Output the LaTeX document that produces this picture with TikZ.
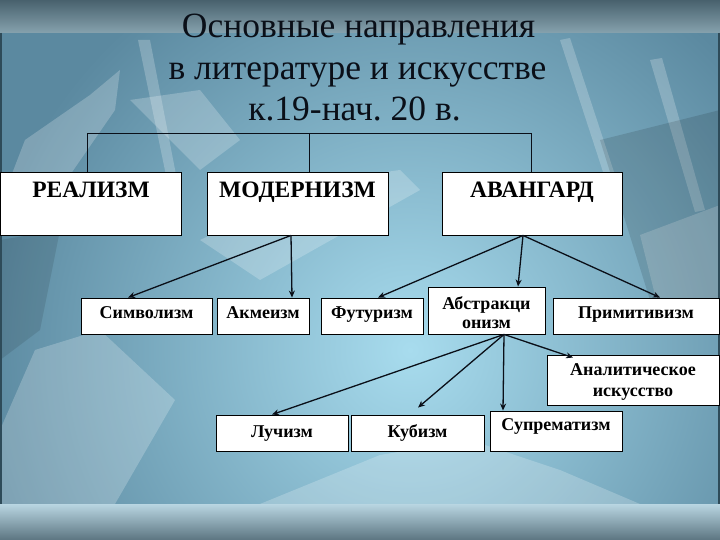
\documentclass[tikz,border=0pt]{standalone}
\usepackage{fontspec}
\setmainfont{Liberation Serif}
\usetikzlibrary{arrows.meta,calc}
\frenchspacing
\definecolor{bgout}{HTML}{5B89A0}
\definecolor{bgin}{HTML}{A8DCEE}
\definecolor{bandtop}{HTML}{48616D}
\definecolor{bandbot}{HTML}{86A2AE}
\definecolor{footlight}{HTML}{B9D6E2}
\definecolor{footdark}{HTML}{5C7581}
\definecolor{edge}{HTML}{2E4B59}
\definecolor{ink}{HTML}{0A0F18}
\tikzset{
  box/.style={draw=black, line width=0.9pt, fill=white, inner sep=0pt},
  bigtxt/.style={font=\fontsize{23.5}{26}\selectfont\bfseries, inner sep=0pt, anchor=base},
  smalltxt/.style={font=\fontsize{18}{20}\selectfont\bfseries, inner sep=0pt, anchor=base},
  titletxt/.style={font=\fontsize{35.5}{38}\selectfont, inner sep=0pt, anchor=base, text=ink},
  arr/.style={draw=ink, line width=1.3pt, -{Stealth[length=7pt,width=6pt]}},
  brk/.style={draw=ink, line width=0.9pt},
  shard/.style={fill=white, fill opacity=0.22, draw=none}
}
\begin{document}
\begin{tikzpicture}[x=1pt,y=-1pt]
\useasboundingbox (0,0) rectangle (720,540);
% background
\fill[bgout] (0,0) rectangle (720,540);
\begin{scope}
  \clip (0,0) rectangle (720,504);
  \shade[inner color=bgin, outer color=bgout] (410,350) circle (430);
  \fill[shard] (0,205) -- (25,140) -- (90,95) -- (120,70) -- (115,110) -- (70,175) -- (20,230) -- cycle;
  \fill[shard] (138,40) -- (150,40) -- (178,185) -- (168,185) -- cycle;
  \fill[shard] (130,100) -- (200,90) -- (240,140) -- (200,170) -- cycle;
  \fill[shard] (560,40) -- (570,38) -- (615,175) -- (605,178) -- cycle;
  \fill[shard] (650,60) -- (662,58) -- (705,210) -- (695,212) -- cycle;
  \fill[shard] (0,430) -- (35,350) -- (100,330) -- (175,400) -- (115,504) -- (0,504) -- cycle;
  \fill[shard] (260,504) -- (380,455) -- (470,440) -- (560,470) -- (640,504) -- cycle;
  \fill[shard] (640,235) -- (720,205) -- (720,300) -- (665,335) -- cycle;
  \fill[shard] (200,240) -- (330,180) -- (400,170) -- (420,190) -- (260,280) -- cycle;
  \fill[black, fill opacity=0.12] (600,140) -- (720,110) -- (720,330) -- (650,300) -- cycle;
  \fill[black, fill opacity=0.10] (0,240) -- (60,230) -- (40,330) -- (0,360) -- cycle;
\end{scope}
\shade[top color=bandtop, bottom color=bandbot] (0,0) rectangle (720,33);
\shade[top color=footlight, bottom color=footdark] (0,504) rectangle (720,540);
\draw[edge, line width=2pt] (1,33) -- (1,504);
\draw[edge, line width=2pt] (719,33) -- (719,504);

% title
\node[titletxt] (t1) at (358.5,38) {Основные направления};
\node[titletxt] (t2) at (357.5,80) {в литературе и искусстве};
\node[titletxt] (t3) at (354.5,121) {к.19-нач. 20 в.};

% top boxes
\node[box, minimum width=181pt, minimum height=63pt] (real) at (91,203.5) {};
\node[box, minimum width=181pt, minimum height=63pt] (mod) at (297.5,203.5) {};
\node[box, minimum width=180pt, minimum height=63pt] (avg) at (532,203.5) {};
\node[bigtxt] (realt) at (91,198) {РЕАЛИЗМ};
\node[bigtxt] (modt) at (297.5,198) {МОДЕРНИЗМ};
\node[bigtxt] (avgt) at (532,198) {АВАНГАРД};

% bracket
\coordinate (b1) at (87,133);
\coordinate (b2) at (309,133);
\coordinate (b3) at (531,133);
\draw[brk] (real.north -| b1) -- (b1) -- (b3) -- (avg.north -| b3);
\draw[brk] (b2) -- (mod.north -| b2);

% second row
\node[box, minimum width=131pt, minimum height=36pt] (sym) at (146.5,316) {};
\node[box, minimum width=92pt, minimum height=36pt] (akm) at (263,316) {};
\node[box, minimum width=102pt, minimum height=36pt] (fut) at (372,316) {};
\node[box, minimum width=117pt, minimum height=47pt] (abs) at (486.5,310.5) {};
\node[box, minimum width=166pt, minimum height=36pt] (prim) at (636,316) {};
\node[smalltxt] (symt) at (146.5,318) {Символизм};
\node[smalltxt] (akmt) at (263,318) {Акмеизм};
\node[smalltxt] (futt) at (372,318) {Футуризм};
\node[smalltxt] (abst1) at (486.5,309) {Абстракци};
\node[smalltxt] (abst2) at (486.5,328) {онизм};
\node[smalltxt] (primt) at (636,318) {Примитивизм};

% third / fourth rows
\node[box, minimum width=172pt, minimum height=50pt] (anal) at (633,380) {};
\node[smalltxt] (analt1) at (633,375) {Аналитическое};
\node[smalltxt] (analt2) at (633,396) {искусство};
\node[box, minimum width=132pt, minimum height=36pt] (luch) at (282,433) {};
\node[box, minimum width=133pt, minimum height=36pt] (kub) at (417.5,433) {};
\node[box, minimum width=132pt, minimum height=40pt] (sup) at (556,431) {};
\node[smalltxt] (lucht) at (282,437) {Лучизм};
\node[smalltxt] (kubt) at (417.5,437) {Кубизм};
\node[smalltxt] (supt) at (556,430) {Супрематизм};

% arrows
\draw[arr] ([xshift=-6.5]mod.south) -- ([xshift=-18.5]sym.north);
\draw[arr] ([xshift=-6.5]mod.south) -- ([xshift=29]akm.north);
\draw[arr] ([xshift=-9]avg.south) -- ([xshift=6]fut.north);
\draw[arr] ([xshift=-9]avg.south) -- ([xshift=31.5]abs.north);
\draw[arr] ([xshift=-9]avg.south) -- ([xshift=24]prim.north);
\draw[arr] ([xshift=17.5]abs.south) -- ([xshift=-60,yshift=-3]anal.north);
\draw[arr] ([xshift=17.5]abs.south) -- ([xshift=-10]luch.north);
\draw[arr] ([xshift=17.5]abs.south) -- ([xshift=0.5,yshift=7]kub.north);
\draw[arr] ([xshift=17.5]abs.south) -- ([xshift=-53]sup.north);
\end{tikzpicture}
\end{document}
